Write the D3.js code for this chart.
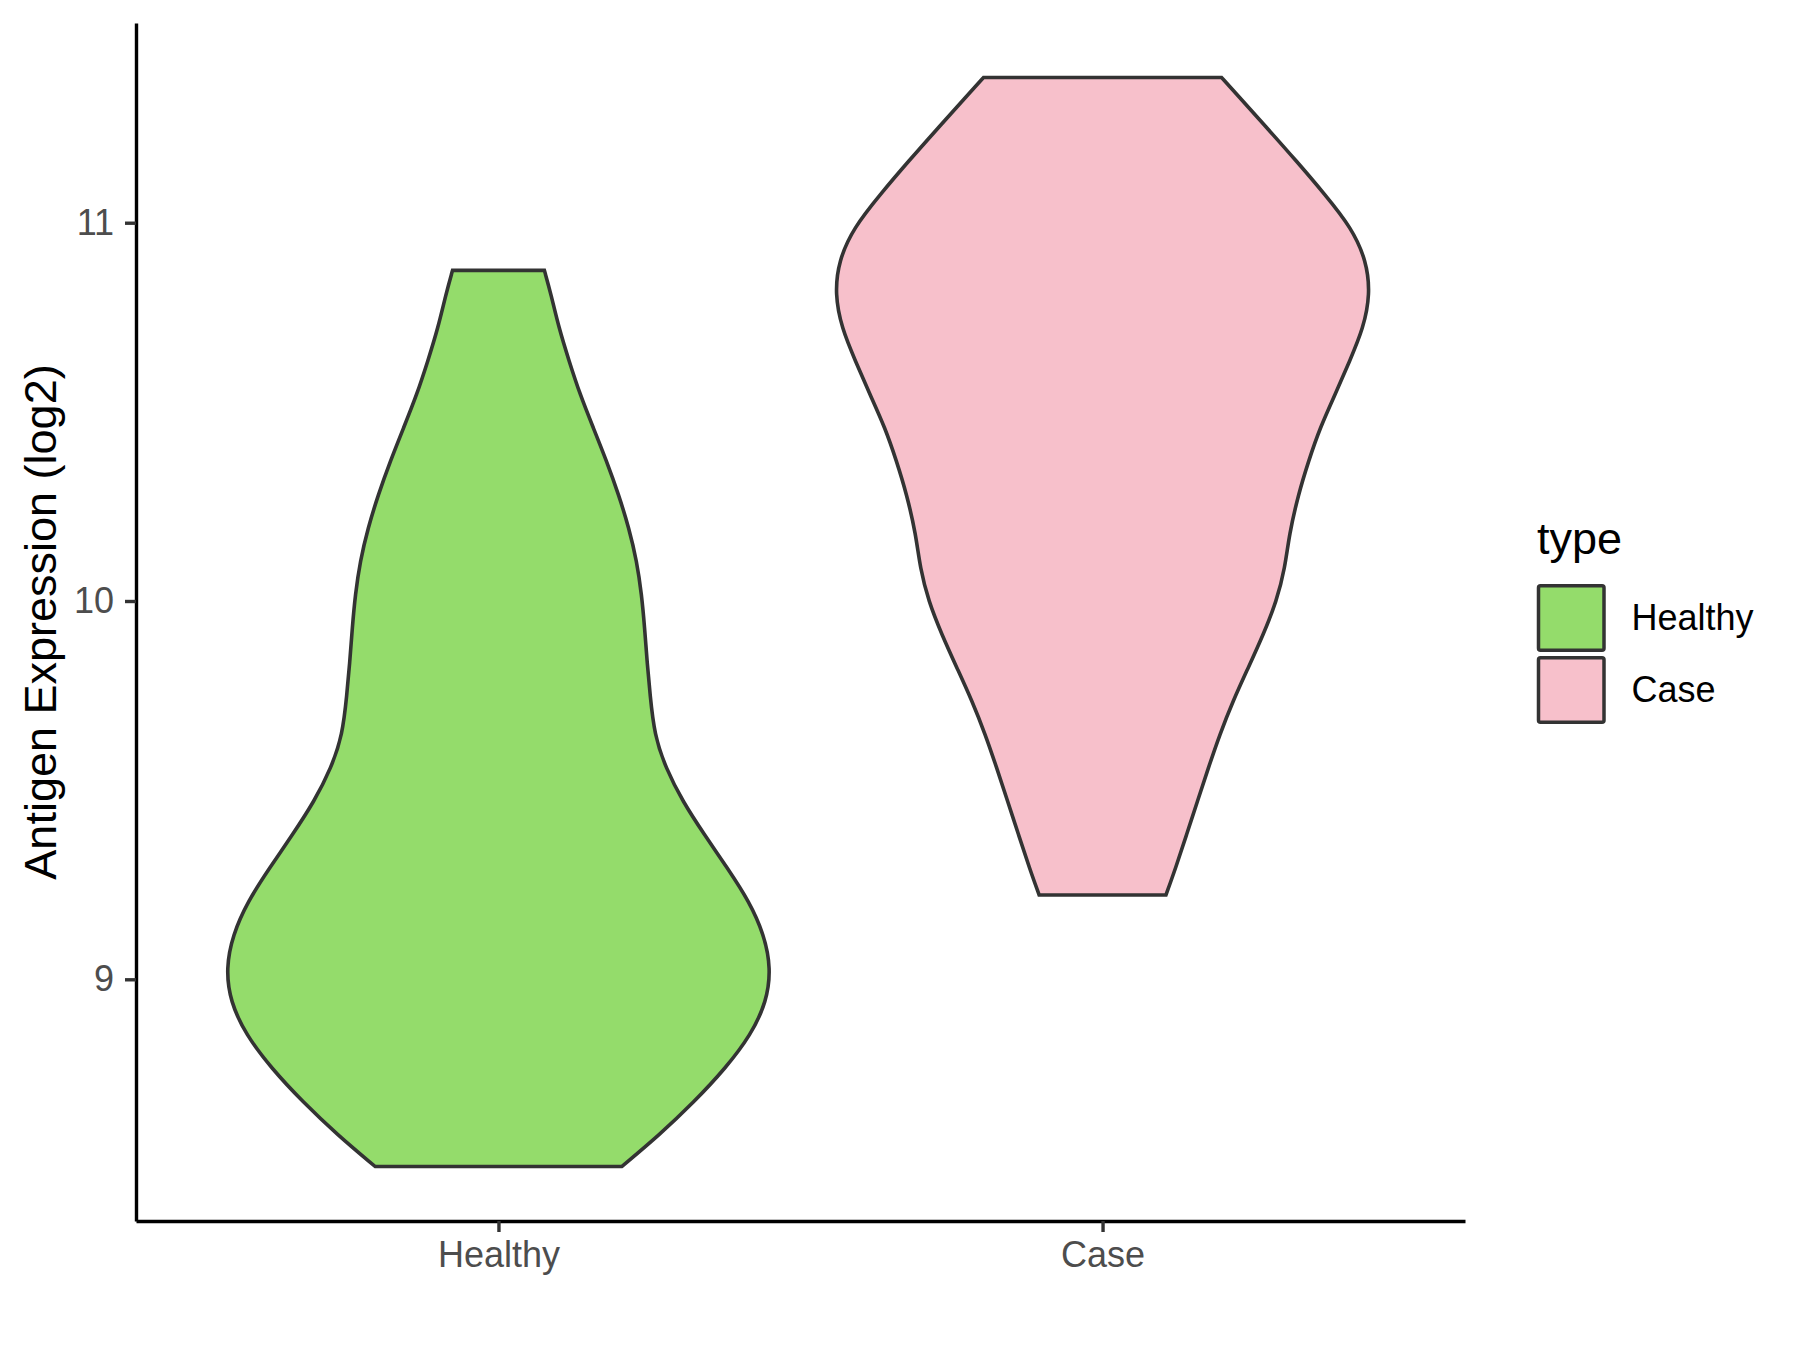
<!DOCTYPE html>
<html>
<head>
<meta charset="utf-8">
<script src="https://cdn.jsdelivr.net/npm/d3@7"></script>
<style>
	body { margin: 0; background: #ffffff; }
	svg { display: block; }
	text { font-family: "Liberation Sans", Arial, sans-serif; }
</style>
</head>
<body>
<div id="chart"></div>
<script>
// categories and fills
var categories = ["Healthy", "Case"];
var fills = ["#94DC6B", "#F7C0CB"];
var yTicks = [9, 10, 11];

// violin outlines: expression value and half width (in category units)
var healthyValues = [8.505, 8.588, 8.676, 8.765, 8.853, 8.941, 9.029, 9.117, 9.206, 9.294, 9.382, 9.470, 9.558, 9.647, 9.752, 9.840, 9.929, 10.017, 10.105, 10.193, 10.281, 10.370, 10.458, 10.546, 10.634, 10.722, 10.811, 10.874];
var healthyWidths = [0.204, 0.266, 0.324, 0.376, 0.418, 0.444, 0.451, 0.440, 0.415, 0.379, 0.341, 0.305, 0.277, 0.258, 0.251, 0.246, 0.242, 0.237, 0.229, 0.216, 0.199, 0.179, 0.157, 0.135, 0.117, 0.100, 0.087, 0.076];

var caseValues = [9.223, 9.294, 9.382, 9.470, 9.558, 9.647, 9.736, 9.823, 9.911, 9.999, 10.087, 10.176, 10.281, 10.370, 10.458, 10.546, 10.634, 10.722, 10.811, 10.899, 10.987, 11.075, 11.163, 11.251, 11.340, 11.384];
var caseWidths = [0.105, 0.121, 0.139, 0.157, 0.175, 0.194, 0.216, 0.241, 0.266, 0.288, 0.302, 0.309, 0.324, 0.341, 0.360, 0.385, 0.409, 0.432, 0.443, 0.437, 0.412, 0.368, 0.321, 0.272, 0.222, 0.197];

(function() {
	var margin = { top: 23, left: 136, right: 335, bottom: 129 },
	height = 1350 - margin.top - margin.bottom,
	width = 1800 - margin.left - margin.right;

	var svg = d3.select("#chart")
		.append("svg")
		.attr("height", height + margin.top + margin.bottom)
		.attr("width", width + margin.left + margin.right)
		.append("g")
		.attr("transform", "translate(" + margin.left + "," + margin.top + ")");

	var violins = [
		{ name: categories[0], fill: fills[0], values: healthyValues, widths: healthyWidths },
		{ name: categories[1], fill: fills[1], values: caseValues, widths: caseWidths }
	];

	// same 5% expansion ggplot uses
	var allValues = healthyValues.concat(caseValues);
	var lo = d3.min(allValues), hi = d3.max(allValues);
	var pad = (hi - lo) * 0.05;

	var xPositionScale = d3.scalePoint().domain(categories).range([0, width]).padding(0.6);
	var yPositionScale = d3.scaleLinear().domain([lo - pad, hi + pad]).range([height, 0]);

	violins.forEach(function(v) {
		var cx = xPositionScale(v.name);
		var step = xPositionScale.step();
		var points = v.values.map(function(val, i) {
			return { value: val, w: v.widths[i] };
		});

		var area = d3.area()
			.y(function(d) { return yPositionScale(d.value) })
			.x0(function(d) { return cx - d.w * step })
			.x1(function(d) { return cx + d.w * step })
			.curve(d3.curveBasis);

		svg.append("path")
			.datum(points)
			.attr("d", area)
			.attr("fill", v.fill)
			.attr("stroke", "#333333")
			.attr("stroke-width", 3.6)
			.attr("stroke-linejoin", "miter");
	});

	// axes
	var yAxis = d3.axisLeft(yPositionScale)
		.tickValues(yTicks)
		.tickSize(11)
		.tickSizeOuter(0)
		.tickPadding(11)
		.tickFormat(d3.format("d"));
	var yg = svg.append("g")
		.attr("class", "axis y-axis")
		.call(yAxis);

	var xAxis = d3.axisBottom(xPositionScale)
		.tickSize(11)
		.tickSizeOuter(0)
		.tickPadding(9);
	var xg = svg.append("g")
		.attr("class", "axis x-axis")
		.attr("transform", "translate(0," + height + ")")
		.call(xAxis);

	[yg, xg].forEach(function(g) {
		g.select(".domain").attr("stroke", "#000000").attr("stroke-width", 3.4);
		g.selectAll(".tick line").attr("stroke", "#333333").attr("stroke-width", 3.4);
		g.selectAll(".tick text")
			.attr("fill", "#4D4D4D")
			.style("font-size", "36px")
			.style("font-family", "'Liberation Sans', Arial, sans-serif");
	});

	svg.append("text")
		.attr("transform", "translate(" + (55.5 - margin.left) + "," + (height / 2) + ") rotate(-90)")
		.attr("text-anchor", "middle")
		.text("Antigen Expression (log2)")
		.attr("style", "font-size: 45px; fill: #000000");

	// legend
	var legend = svg.append("g")
		.attr("transform", "translate(" + (1538.5 - margin.left) + "," + (554 - margin.top) + ")");

	legend.append("text")
		.attr("x", -1.5)
		.attr("y", 0)
		.text("type")
		.attr("style", "font-size: 45px; fill: #000000");

	legend.selectAll(".key")
		.data(violins)
		.enter()
		.append("rect")
		.attr("class", "key")
		.attr("x", 0)
		.attr("y", function(d, i) { return 31.8 + i * 72 })
		.attr("width", 65.5)
		.attr("height", 64.5)
		.attr("rx", 2)
		.attr("fill", function(d) { return d.fill })
		.attr("stroke", "#333333")
		.attr("stroke-width", 3.5);

	legend.selectAll(".key-label")
		.data(violins)
		.enter()
		.append("text")
		.attr("class", "key-label")
		.attr("x", 93)
		.attr("y", function(d, i) { return 76 + i * 72 })
		.text(function(d) { return d.name })
		.attr("style", "font-size: 36px; fill: #000000");
})();
</script>
</body>
</html>
